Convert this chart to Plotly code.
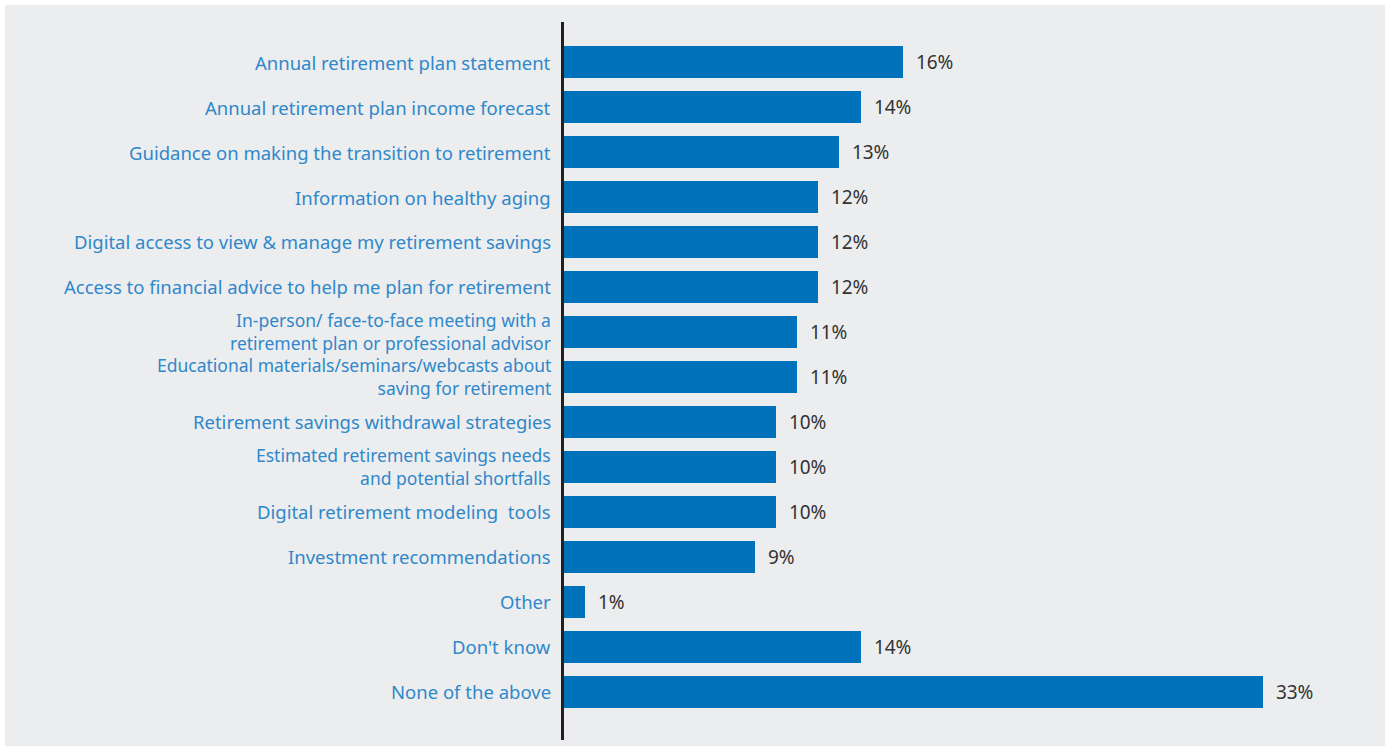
import plotly.graph_objects as go

categories = [
    "Annual retirement plan statement",
    "Annual retirement plan income forecast",
    "Guidance on making the transition to retirement",
    "Information on healthy aging",
    "Digital access to view & manage my retirement savings",
    "Access to financial advice to help me plan for retirement",
    "In-person/ face-to-face meeting with a<br>retirement plan or professional advisor",
    "Educational materials/seminars/webcasts about<br>saving for retirement",
    "Retirement savings withdrawal strategies",
    "Estimated retirement savings needs<br>and potential shortfalls",
    "Digital retirement modeling  tools",
    "Investment recommendations",
    "Other",
    "Don't know",
    "None of the above",
]
values = [16, 14, 13, 12, 12, 12, 11, 11, 10, 10, 10, 9, 1, 14, 33]
value_labels = [f"{v}%" for v in values]

positions = list(range(len(categories)))

W, H = 1388, 748
L, R, T, B = 564, 19, 22, 8
pw, ph = W - L - R, H - T - B

def px_to_paper_x(px):
    return (px - L) / pw

def px_to_paper_y(py):
    return (H - B - py) / ph

fig = go.Figure()
fig.add_trace(go.Bar(
    x=values,
    y=positions,
    orientation="h",
    marker=dict(color="#0071BB", line=dict(width=0)),
    width=0.71,
    text=["  " + t for t in value_labels],
    textposition="outside",
    textfont=dict(family="Noto Sans", size=19, color="#333333"),
    cliponaxis=False,
    hoverinfo="skip",
))

fig.add_shape(
    type="rect", xref="paper", yref="paper", layer="below",
    x0=px_to_paper_x(5), x1=px_to_paper_x(1385),
    y0=px_to_paper_y(746), y1=px_to_paper_y(5),
    fillcolor="#ECEDEF", line=dict(width=0),
)

# category labels as annotations anchored to the category axis
for pos, label in zip(positions, categories):
    multi = "<br>" in label
    fig.add_annotation(
        x=0, xref="x", y=pos, yref="y",
        text=label, showarrow=False,
        xanchor="right", yanchor="middle", align="right",
        xshift=-12,
        font=dict(family="Noto Sans", size=17.5 if multi else 18.5, color="#2F88CA"),
        borderpad=0,
    )

fig.update_layout(
    width=W, height=H,
    margin=dict(l=L, r=R, t=T, b=B, pad=0),
    paper_bgcolor="white",
    plot_bgcolor="rgba(0,0,0,0)",
    showlegend=False,
    bargap=0,
    font=dict(family="Noto Sans"),
)
fig.update_xaxes(
    range=[0, 38], visible=False, showgrid=False, zeroline=False, fixedrange=True,
)
fig.update_yaxes(
    range=[15.07, -0.89],
    tickvals=positions,
    showticklabels=False,
    showgrid=False, zeroline=False,
    showline=True, linecolor="#231F20", linewidth=2.5,
    ticks="",
    fixedrange=True,
)

fig.write_html(
    "out.html",
    config={"displayModeBar": False},
    post_script="document.body.style.margin='0';document.body.style.overflow='hidden';",
)
